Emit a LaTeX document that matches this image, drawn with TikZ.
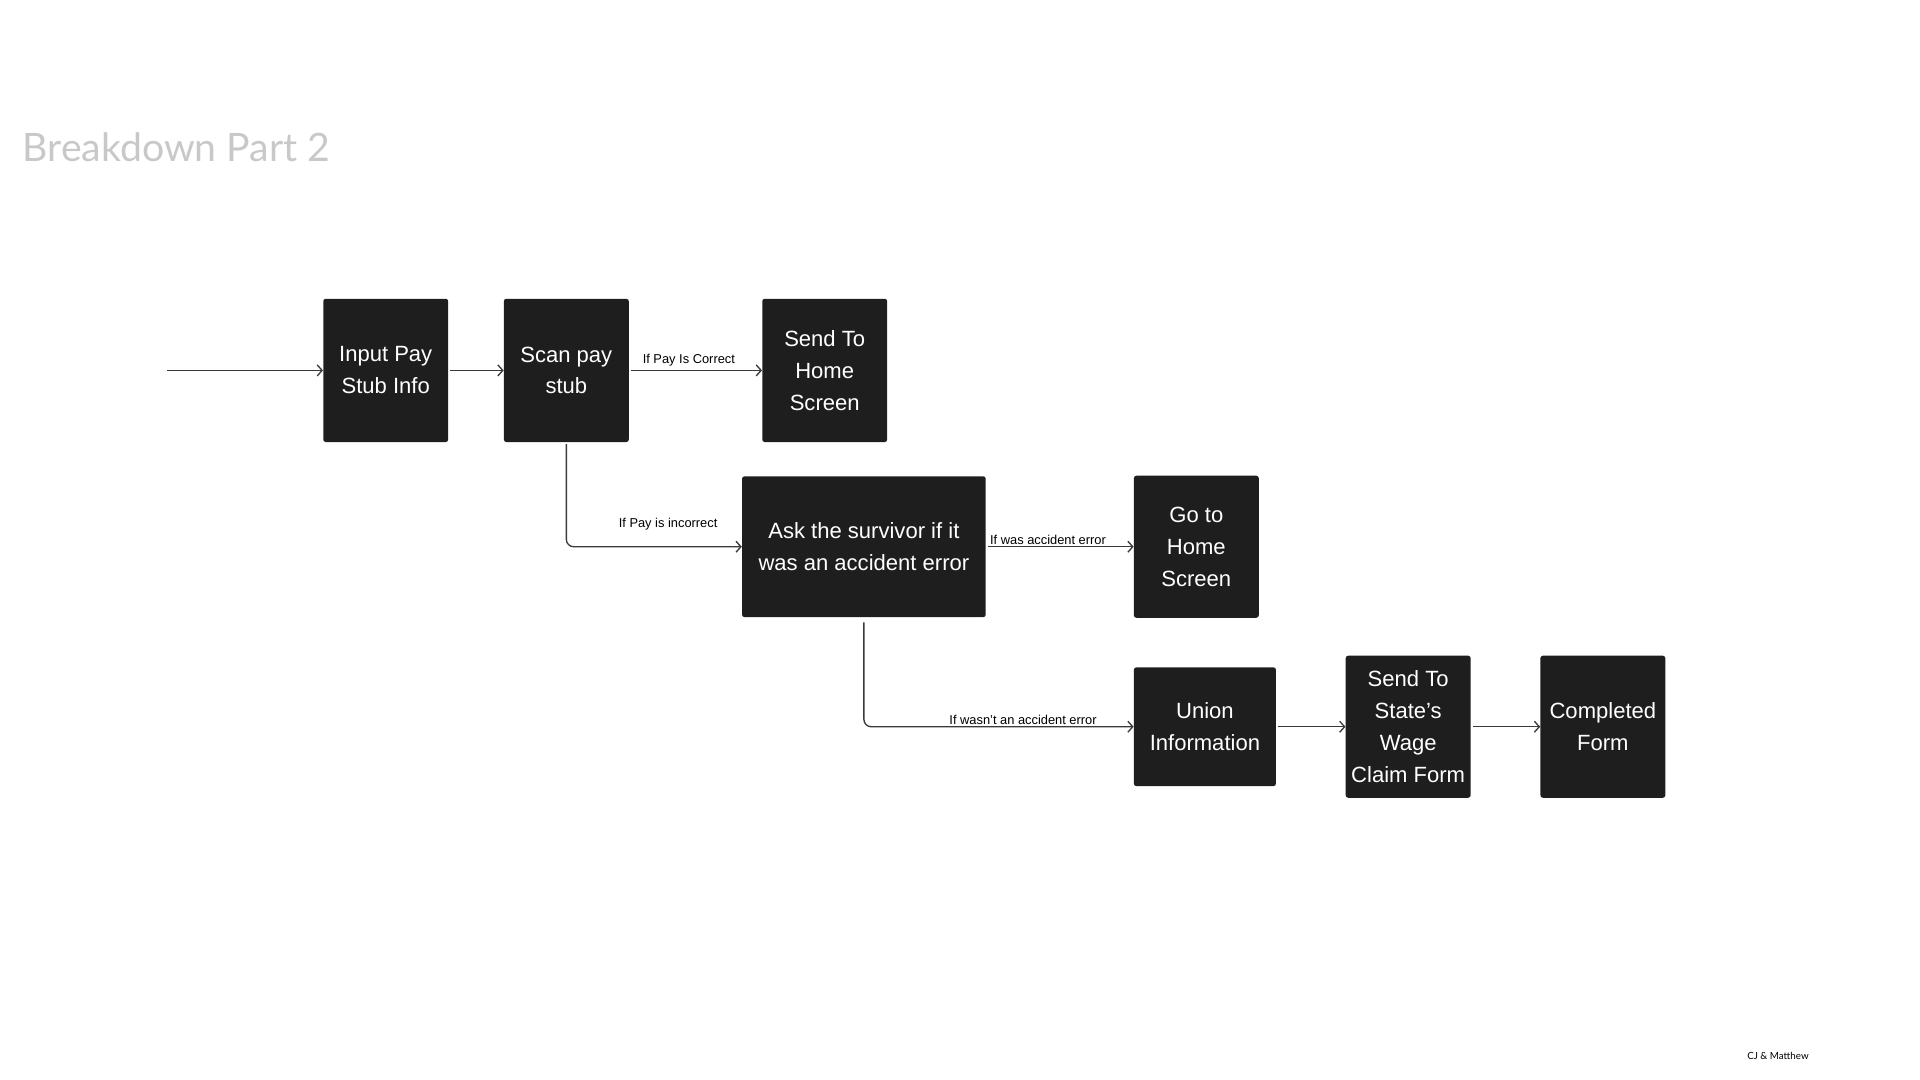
\documentclass[tikz,border=0pt]{standalone}
\usepackage{fontspec}
\setmainfont{Liberation Sans}
\newfontfamily\titrefont{Lato}
\usetikzlibrary{arrows.meta}

\definecolor{fond}{HTML}{1E1E1E}
\definecolor{trait}{HTML}{3A3A3A}
\definecolor{gristitre}{HTML}{C8C8C8}

\tikzset{
	boite/.style={fill=fond, rounded corners=2pt, text=white, align=center, inner sep=0pt,
		font=\fontsize{18}{26}\selectfont, minimum width=102pt, minimum height=117pt},
	fleche/.style={draw=trait, line width=1.1pt, shorten <=1.5pt, -{Straight Barb[length=4pt,width=9pt]}},
	etiq/.style={font=\fontsize{10.5}{12}\selectfont, inner sep=1pt}
}

\begin{document}
\begin{tikzpicture}[x=1pt, y=-1pt]
	\useasboundingbox (0,0) rectangle (1568,882);
	% Titre
	\node[anchor=base west, text=gristitre, font=\titrefont\fontsize{32}{40}\selectfont] (titre) at (15,132) {Breakdown Part 2};
	\node[font=\titrefont\fontsize{8}{10}\selectfont] (auteurs) at (1452,862) {CJ \& Matthew};
	% Boites
	\node[boite] (input) at (315,302.5) {Input Pay\\Stub Info};
	\node[boite] (scan) at (462.5,302.5) {Scan pay\\stub};
	\node[boite] (envoi) at (673.5,302.5) {Send To\\Home\\Screen};
	\node[boite, minimum width=199pt, minimum height=115pt] (ask) at (705.5,446.5) {Ask the survivor if it\\was an accident error};
	\node[boite, minimum height=116pt] (retour) at (977,446.5) {Go to\\Home\\Screen};
	\node[boite, minimum width=116pt, minimum height=97pt] (union) at (984,593.5) {Union\\Information};
	\node[boite, minimum height=116pt] (etat) at (1150,593.5) {Send To\\State’s\\Wage\\Claim Form};
	\node[boite, minimum height=116pt] (fini) at (1309,593.5) {Completed\\Form};
	% Fleches
	\coordinate (depart) at (135,302.5);
	\draw[fleche] (depart) -- (input);
	\draw[fleche] (input) -- (scan);
	\draw[fleche] (scan) -- node[etiq, above=2pt, pos=0.45] {If Pay Is Correct} (envoi);
	\draw[fleche, rounded corners=6pt] (scan.south) |- node[etiq, above=12pt, pos=0.79] {If Pay is incorrect} (ask.west);
	\draw[fleche] (ask) -- node[etiq, above=0pt, pos=0.42] {If was accident error} (retour);
	\draw[fleche, shorten <=4pt, rounded corners=6pt] (ask.south) |- node[etiq, above=0pt, pos=0.795] {If wasn’t an accident error} (union.west);
	\draw[fleche] (union) -- (etat);
	\draw[fleche] (etat) -- (fini);
\end{tikzpicture}
\end{document}
